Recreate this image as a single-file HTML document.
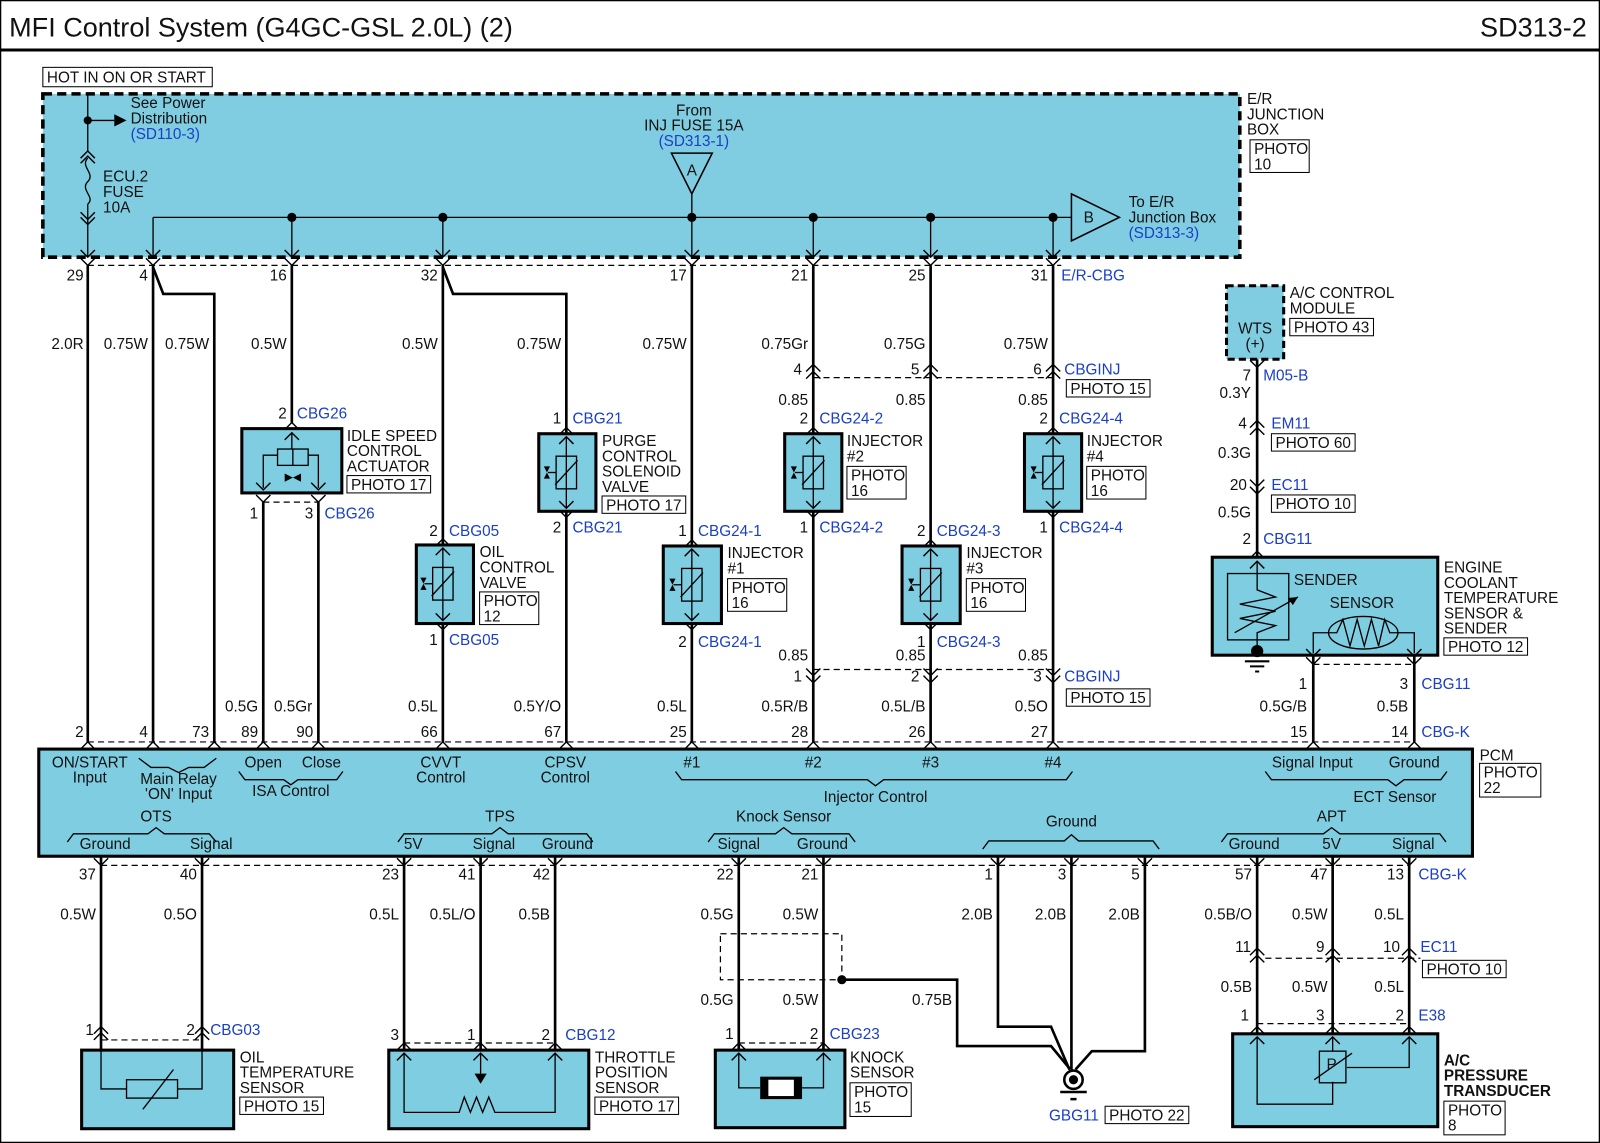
<!DOCTYPE html>
<html><head><meta charset="utf-8"><style>
html,body{margin:0;padding:0;background:#fff}
svg{display:block}
text{font-family:"Liberation Sans",Arial,sans-serif;font-size:15px;fill:#111}
.b{fill:#1a3fc8}
.m{text-anchor:middle}
.e{text-anchor:end}
.w{stroke:#000;stroke-width:2.6;fill:none}
.t{stroke:#000;stroke-width:1.3;fill:none}
.d{stroke:#000;stroke-width:1.2;fill:none;stroke-dasharray:6,4}
.bx{fill:#7fcde1;stroke:#000;stroke-width:3}
.pb{fill:#fff;stroke:#000;stroke-width:1}
</style></head><body>
<svg width="1600" height="1143" viewBox="0 0 1568 1120" preserveAspectRatio="none" xmlns="http://www.w3.org/2000/svg">
<defs>
<path id="dv" d="M-7,-7 L0,0 L7,-7" stroke="#000" stroke-width="1.4" fill="none"/>
<path id="uv" d="M-7,7 L0,0 L7,7" stroke="#000" stroke-width="1.4" fill="none"/>
<g id="sol">
<rect x="-10" y="-16" width="20" height="32" fill="none" stroke="#000" stroke-width="1.3"/>
<path d="M-11,12 L11,-12" stroke="#000" stroke-width="1.3"/>
<path d="M-10,0 L-18,0" stroke="#000" stroke-width="1.3"/>
<path d="M-22,-6 L-16,-6 L-22,6 L-16,6 Z" fill="#000"/>
</g>
</defs>
<rect x="0.5" y="0.5" width="1567" height="1119" fill="#fff" stroke="#000" stroke-width="1.5"/>
<line x1="0" y1="49" x2="1568" y2="49" stroke="#000" stroke-width="3"/>
<text x="9" y="36" style="font-size:26.5px">MFI Control System (G4GC-GSL 2.0L) (2)</text>
<text x="1555" y="36" class="e" style="font-size:26.5px">SD313-2</text>

<!-- Junction box -->
<rect x="42" y="66" width="166" height="19" fill="#fff" stroke="#000" stroke-width="1"/>
<text x="46" y="81">HOT IN ON OR START</text>
<rect x="42" y="92" width="1173" height="160" fill="#80cde1" stroke="#000" stroke-width="3.5" stroke-dasharray="9,5"/>
<text x="1222" y="102">E/R</text><text x="1222" y="117">JUNCTION</text><text x="1222" y="132">BOX</text>
<rect x="1225" y="137" width="58" height="32" class="pb"/><text x="1229" y="151">PHOTO</text><text x="1229" y="166">10</text>

<line x1="86" y1="92" x2="86" y2="148" class="t"/>
<circle cx="86" cy="118" r="4"/>
<line x1="86" y1="118" x2="112" y2="118" class="t"/><path d="M112,112 L124,118 L112,124Z"/>
<text x="128" y="106">See Power</text><text x="128" y="121">Distribution</text><text x="128" y="136" class="b">(SD110-3)</text>
<use href="#uv" x="86" y="148"/><use href="#uv" x="86" y="153"/>
<path d="M86,155 C78,163 94,170 86,178 C78,186 94,193 86,200" class="t"/>
<use href="#dv" x="86" y="215"/><use href="#dv" x="86" y="220"/>
<line x1="86" y1="200" x2="86" y2="252" class="t"/>
<text x="101" y="178">ECU.2</text><text x="101" y="193">FUSE</text><text x="101" y="208">10A</text>

<line x1="150" y1="213" x2="1050" y2="213" class="t"/>
<line x1="150" y1="213" x2="150" y2="252" class="t"/>
<g fill="#000"><circle cx="286" cy="213" r="4.5"/><circle cx="434" cy="213" r="4.5"/><circle cx="678" cy="213" r="4.5"/><circle cx="797" cy="213" r="4.5"/><circle cx="912" cy="213" r="4.5"/><circle cx="1032" cy="213" r="4.5"/></g>
<g class="t"><line x1="286" y1="213" x2="286" y2="252"/><line x1="434" y1="213" x2="434" y2="252"/><line x1="678" y1="190" x2="678" y2="252"/><line x1="797" y1="213" x2="797" y2="252"/><line x1="912" y1="213" x2="912" y2="252"/><line x1="1032" y1="213" x2="1032" y2="252"/></g>
<path d="M658,150 L698,150 L678,190Z" fill="none" stroke="#000" stroke-width="1.5"/><text x="678" y="172" class="m">A</text>
<text x="680" y="113" class="m">From</text><text x="680" y="128" class="m">INJ FUSE 15A</text><text x="680" y="143" class="m b">(SD313-1)</text>
<path d="M1050,190 L1050,236 L1097,213Z" fill="none" stroke="#000" stroke-width="1.5"/><text x="1067" y="218" class="m">B</text>
<text x="1106" y="203">To E/R</text><text x="1106" y="218">Junction Box</text><text x="1106" y="233" class="b">(SD313-3)</text>

<!-- top connector -->
<line x1="86" y1="260" x2="1040" y2="260" class="d"/>
<g><use href="#dv" x="86" y="252"/><use href="#dv" x="86" y="260"/>
<use href="#dv" x="150" y="252"/><use href="#dv" x="150" y="260"/>
<use href="#dv" x="286" y="252"/><use href="#dv" x="286" y="260"/>
<use href="#dv" x="434" y="252"/><use href="#dv" x="434" y="260"/>
<use href="#dv" x="678" y="252"/><use href="#dv" x="678" y="260"/>
<use href="#dv" x="797" y="252"/><use href="#dv" x="797" y="260"/>
<use href="#dv" x="912" y="252"/><use href="#dv" x="912" y="260"/>
<use href="#dv" x="1032" y="252"/><use href="#dv" x="1032" y="260"/></g>
<text x="82" y="275" class="e">29</text><text x="145" y="275" class="e">4</text><text x="281" y="275" class="e">16</text><text x="429" y="275" class="e">32</text><text x="673" y="275" class="e">17</text><text x="792" y="275" class="e">21</text><text x="907" y="275" class="e">25</text><text x="1027" y="275" class="e">31</text><text x="1040" y="275" class="b">E/R-CBG</text>

<!-- wires top to PCM -->
<g class="w">
<line x1="86" y1="260" x2="86" y2="727"/>
<line x1="150" y1="260" x2="150" y2="727"/>
<path d="M150,262 L160,288 L210,288 L210,727"/>
<line x1="286" y1="260" x2="286" y2="414"/>
<line x1="258" y1="492" x2="258" y2="727"/>
<line x1="312" y1="492" x2="312" y2="727"/>
<line x1="434" y1="260" x2="434" y2="727"/>
<path d="M434,262 L444,288 L555,288 L555,727"/>
<line x1="678" y1="260" x2="678" y2="727"/>
<line x1="797" y1="260" x2="797" y2="727"/>
<line x1="912" y1="260" x2="912" y2="727"/>
<line x1="1032" y1="260" x2="1032" y2="727"/>
<line x1="1232" y1="352" x2="1232" y2="546"/>
<line x1="1287" y1="643" x2="1287" y2="727"/>
<line x1="1386" y1="643" x2="1386" y2="727"/>
</g>
<g>
<text x="82" y="342" class="e">2.0R</text><text x="145" y="342" class="e">0.75W</text><text x="205" y="342" class="e">0.75W</text><text x="281" y="342" class="e">0.5W</text><text x="429" y="342" class="e">0.5W</text><text x="550" y="342" class="e">0.75W</text><text x="673" y="342" class="e">0.75W</text><text x="792" y="342" class="e">0.75Gr</text><text x="907" y="342" class="e">0.75G</text><text x="1027" y="342" class="e">0.75W</text>
</g>
<!-- CBGINJ top -->
<line x1="797" y1="370" x2="1032" y2="370" class="d"/>
<g><use href="#uv" x="797" y="357"/><use href="#uv" x="797" y="364"/><use href="#uv" x="912" y="357"/><use href="#uv" x="912" y="364"/><use href="#uv" x="1032" y="357"/><use href="#uv" x="1032" y="364"/></g>
<text x="786" y="367" class="e">4</text><text x="901" y="367" class="e">5</text><text x="1021" y="367" class="e">6</text><text x="1043" y="367" class="b">CBGINJ</text>
<rect x="1045" y="372" width="82" height="17" class="pb"/><text x="1049" y="386">PHOTO 15</text>
<text x="792" y="397" class="e">0.85</text><text x="907" y="397" class="e">0.85</text><text x="1027" y="397" class="e">0.85</text>

<!-- Idle speed -->
<rect x="237" y="420" width="98" height="63" class="bx"/>
<use href="#uv" x="286" y="414"/><use href="#uv" x="286" y="424"/>
<line x1="286" y1="424" x2="286" y2="440" class="t"/>
<rect x="272" y="440" width="30" height="16" class="t"/><line x1="287" y1="440" x2="287" y2="456" class="t"/>
<path d="M272,446 L258,446 L258,478 M302,446 L312,446 L312,478" class="t"/>
<path d="M279,464 L295,472 L295,464 L279,472Z" fill="#000"/>
<use href="#dv" x="258" y="480"/><use href="#dv" x="258" y="492"/><use href="#dv" x="312" y="480"/><use href="#dv" x="312" y="492"/>
<line x1="258" y1="492" x2="312" y2="492" class="d"/>
<text x="281" y="410" class="e">2</text><text x="291" y="410" class="b">CBG26</text>
<text x="340" y="432">IDLE SPEED</text><text x="340" y="447">CONTROL</text><text x="340" y="462">ACTUATOR</text>
<rect x="340" y="466" width="82" height="17" class="pb"/><text x="344" y="480">PHOTO 17</text>
<text x="253" y="508" class="e">1</text><text x="307" y="508" class="e">3</text><text x="318" y="508" class="b">CBG26</text>

<!-- valves: purge, oil, injectors -->
<g>
<rect x="528" y="425" width="56" height="76" class="bx"/><use href="#uv" x="555" y="419"/><use href="#uv" x="555" y="428"/><use href="#dv" x="555" y="498"/><use href="#dv" x="555" y="507"/><line x1="555" y1="428" x2="555" y2="498" class="t"/><use href="#sol" x="555" y="463"/>
<text x="550" y="415" class="e">1</text><text x="561" y="415" class="b">CBG21</text><text x="550" y="522" class="e">2</text><text x="561" y="522" class="b">CBG21</text>
<text x="590" y="437">PURGE</text><text x="590" y="452">CONTROL</text><text x="590" y="467">SOLENOID</text><text x="590" y="482">VALVE</text>
<rect x="590" y="486" width="82" height="17" class="pb"/><text x="594" y="500">PHOTO 17</text>

<rect x="408" y="534" width="56" height="77" class="bx"/><use href="#uv" x="434" y="528"/><use href="#uv" x="434" y="537"/><use href="#dv" x="434" y="608"/><use href="#dv" x="434" y="617"/><line x1="434" y1="537" x2="434" y2="608" class="t"/><use href="#sol" x="434" y="572"/>
<text x="429" y="525" class="e">2</text><text x="440" y="525" class="b">CBG05</text><text x="429" y="632" class="e">1</text><text x="440" y="632" class="b">CBG05</text>
<text x="470" y="546">OIL</text><text x="470" y="561">CONTROL</text><text x="470" y="576">VALVE</text>
<rect x="470" y="580" width="58" height="32" class="pb"/><text x="474" y="594">PHOTO</text><text x="474" y="609">12</text>

<rect x="769" y="425" width="56" height="76" class="bx"/><use href="#uv" x="797" y="419"/><use href="#uv" x="797" y="428"/><use href="#dv" x="797" y="498"/><use href="#dv" x="797" y="507"/><line x1="797" y1="428" x2="797" y2="498" class="t"/><use href="#sol" x="797" y="463"/>
<text x="792" y="415" class="e">2</text><text x="803" y="415" class="b">CBG24-2</text><text x="792" y="522" class="e">1</text><text x="803" y="522" class="b">CBG24-2</text>
<text x="830" y="437">INJECTOR</text><text x="830" y="452">#2</text>
<rect x="830" y="457" width="58" height="32" class="pb"/><text x="834" y="471">PHOTO</text><text x="834" y="486">16</text>

<rect x="1004" y="425" width="56" height="76" class="bx"/><use href="#uv" x="1032" y="419"/><use href="#uv" x="1032" y="428"/><use href="#dv" x="1032" y="498"/><use href="#dv" x="1032" y="507"/><line x1="1032" y1="428" x2="1032" y2="498" class="t"/><use href="#sol" x="1032" y="463"/>
<text x="1027" y="415" class="e">2</text><text x="1038" y="415" class="b">CBG24-4</text><text x="1027" y="522" class="e">1</text><text x="1038" y="522" class="b">CBG24-4</text>
<text x="1065" y="437">INJECTOR</text><text x="1065" y="452">#4</text>
<rect x="1065" y="457" width="58" height="32" class="pb"/><text x="1069" y="471">PHOTO</text><text x="1069" y="486">16</text>

<rect x="650" y="535" width="57" height="76" class="bx"/><use href="#uv" x="678" y="529"/><use href="#uv" x="678" y="538"/><use href="#dv" x="678" y="608"/><use href="#dv" x="678" y="617"/><line x1="678" y1="538" x2="678" y2="608" class="t"/><use href="#sol" x="678" y="573"/>
<text x="673" y="525" class="e">1</text><text x="684" y="525" class="b">CBG24-1</text><text x="673" y="634" class="e">2</text><text x="684" y="634" class="b">CBG24-1</text>
<text x="713" y="547">INJECTOR</text><text x="713" y="562">#1</text>
<rect x="713" y="567" width="58" height="32" class="pb"/><text x="717" y="581">PHOTO</text><text x="717" y="596">16</text>

<rect x="884" y="535" width="57" height="76" class="bx"/><use href="#uv" x="912" y="529"/><use href="#uv" x="912" y="538"/><use href="#dv" x="912" y="608"/><use href="#dv" x="912" y="617"/><line x1="912" y1="538" x2="912" y2="608" class="t"/><use href="#sol" x="912" y="573"/>
<text x="907" y="525" class="e">2</text><text x="918" y="525" class="b">CBG24-3</text><text x="907" y="634" class="e">1</text><text x="918" y="634" class="b">CBG24-3</text>
<text x="947" y="547">INJECTOR</text><text x="947" y="562">#3</text>
<rect x="947" y="567" width="58" height="32" class="pb"/><text x="951" y="581">PHOTO</text><text x="951" y="596">16</text>
</g>
<!-- CBGINJ bottom -->
<text x="792" y="647" class="e">0.85</text><text x="907" y="647" class="e">0.85</text><text x="1027" y="647" class="e">0.85</text>
<line x1="797" y1="656" x2="1032" y2="656" class="d"/>
<g><use href="#dv" x="797" y="662"/><use href="#dv" x="797" y="669"/><use href="#dv" x="912" y="662"/><use href="#dv" x="912" y="669"/><use href="#dv" x="1032" y="662"/><use href="#dv" x="1032" y="669"/></g>
<text x="786" y="668" class="e">1</text><text x="901" y="668" class="e">2</text><text x="1021" y="668" class="e">3</text><text x="1043" y="668" class="b">CBGINJ</text>
<rect x="1045" y="675" width="82" height="17" class="pb"/><text x="1049" y="689">PHOTO 15</text>

<!-- A/C module & ECT -->
<rect x="1202" y="280" width="56" height="72" fill="#80cde1" stroke="#000" stroke-width="3" stroke-dasharray="7,4"/>
<text x="1230" y="327" class="m">WTS</text><text x="1230" y="342" class="m">(+)</text>
<text x="1264" y="292">A/C CONTROL</text><text x="1264" y="307">MODULE</text>
<rect x="1264" y="312" width="82" height="17" class="pb"/><text x="1268" y="326">PHOTO 43</text>
<use href="#dv" x="1232" y="360"/>
<text x="1226" y="373" class="e">7</text><text x="1238" y="373" class="b">M05-B</text>
<text x="1226" y="390" class="e">0.3Y</text>
<use href="#uv" x="1232" y="412"/><use href="#uv" x="1232" y="419"/>
<text x="1222" y="420" class="e">4</text><text x="1246" y="420" class="b">EM11</text>
<rect x="1246" y="425" width="82" height="17" class="pb"/><text x="1250" y="439">PHOTO 60</text>
<text x="1226" y="449" class="e">0.3G</text>
<use href="#dv" x="1232" y="477"/><use href="#dv" x="1232" y="484"/>
<text x="1222" y="480" class="e">20</text><text x="1246" y="480" class="b">EC11</text>
<rect x="1246" y="485" width="82" height="17" class="pb"/><text x="1250" y="499">PHOTO 10</text>
<text x="1226" y="507" class="e">0.5G</text>
<text x="1226" y="533" class="e">2</text><text x="1238" y="533" class="b">CBG11</text>

<rect x="1188" y="546" width="221" height="96" class="bx"/>
<use href="#uv" x="1232" y="540"/><use href="#uv" x="1232" y="550"/>
<rect x="1203" y="562" width="60" height="65" class="t"/>
<path d="M1232,550 L1232,578 L1250,585 L1215,592 L1250,599 L1215,606 L1250,613 L1232,620 L1232,636" class="t"/>
<path d="M1210,620 L1272,585" class="t"/><path d="M1272,585 L1262,586 L1267,593Z"/>
<circle cx="1232" cy="638" r="6"/><path d="M1220,648 L1244,648 M1225,653 L1239,653 M1230,658 L1234,658" stroke="#000" stroke-width="2"/>
<text x="1268" y="573">SENDER</text><text x="1303" y="596">SENSOR</text>
<ellipse cx="1336" cy="620" rx="34" ry="16" class="t"/>
<path d="M1302,620 L1310,620 L1316,607 L1323,633 L1330,607 L1337,633 L1344,607 L1351,633 L1357,607 L1362,620 L1370,620" class="t"/>
<path d="M1302,620 L1287,620 L1287,640 M1370,620 L1386,620 L1386,640" class="t"/>
<use href="#dv" x="1287" y="643"/><use href="#dv" x="1287" y="651"/><use href="#dv" x="1386" y="643"/><use href="#dv" x="1386" y="651"/>
<line x1="1287" y1="651" x2="1386" y2="651" class="d"/>
<text x="1415" y="561">ENGINE</text><text x="1415" y="576">COOLANT</text><text x="1415" y="591">TEMPERATURE</text><text x="1415" y="606">SENSOR &amp;</text><text x="1415" y="621">SENDER</text>
<rect x="1415" y="625" width="82" height="17" class="pb"/><text x="1419" y="639">PHOTO 12</text>
<text x="1281" y="675" class="e">1</text><text x="1380" y="675" class="e">3</text><text x="1393" y="675" class="b">CBG11</text>
<text x="1281" y="697" class="e">0.5G/B</text><text x="1380" y="697" class="e">0.5B</text>

<!-- PCM -->
<text x="253" y="697" class="e">0.5G</text><text x="306" y="697" class="e">0.5Gr</text><text x="429" y="697" class="e">0.5L</text><text x="550" y="697" class="e">0.5Y/O</text><text x="673" y="697" class="e">0.5L</text><text x="792" y="697" class="e">0.5R/B</text><text x="907" y="697" class="e">0.5L/B</text><text x="1027" y="697" class="e">0.5O</text>
<line x1="86" y1="727" x2="1386" y2="727" class="d"/>
<text x="82" y="722" class="e">2</text><text x="145" y="722" class="e">4</text><text x="205" y="722" class="e">73</text><text x="253" y="722" class="e">89</text><text x="307" y="722" class="e">90</text><text x="429" y="722" class="e">66</text><text x="550" y="722" class="e">67</text><text x="673" y="722" class="e">25</text><text x="792" y="722" class="e">28</text><text x="907" y="722" class="e">26</text><text x="1027" y="722" class="e">27</text><text x="1281" y="722" class="e">15</text><text x="1380" y="722" class="e">14</text><text x="1393" y="722" class="b">CBG-K</text>
<rect x="38" y="734" width="1405" height="105" class="bx"/>
<g><use href="#uv" x="86" y="727"/><use href="#uv" x="150" y="727"/><use href="#uv" x="210" y="727"/><use href="#uv" x="258" y="727"/><use href="#uv" x="312" y="727"/><use href="#uv" x="434" y="727"/><use href="#uv" x="555" y="727"/><use href="#uv" x="678" y="727"/><use href="#uv" x="797" y="727"/><use href="#uv" x="912" y="727"/><use href="#uv" x="1032" y="727"/><use href="#uv" x="1287" y="727"/><use href="#uv" x="1386" y="727"/></g>
<text x="1450" y="745">PCM</text><rect x="1450" y="748" width="60" height="33" class="pb"/><text x="1454" y="762">PHOTO</text><text x="1454" y="777">22</text>
<g>
<text x="88" y="752" class="m">ON/START</text><text x="88" y="767" class="m">Input</text>
<path d="M136,743 L148,752 L165,752 L175,757 L185,752 L200,752 L212,743" class="t"/>
<text x="175" y="768" class="m">Main Relay</text><text x="175" y="783" class="m">'ON' Input</text>
<text x="258" y="752" class="m">Open</text><text x="315" y="752" class="m">Close</text>
<path d="M234,756 L240,764 L278,764 L285,769 L292,764 L330,764 L336,756" class="t"/>
<text x="285" y="780" class="m">ISA Control</text>
<text x="432" y="752" class="m">CVVT</text><text x="432" y="767" class="m">Control</text>
<text x="554" y="752" class="m">CPSV</text><text x="554" y="767" class="m">Control</text>
<text x="678" y="752" class="m">#1</text><text x="797" y="752" class="m">#2</text><text x="912" y="752" class="m">#3</text><text x="1032" y="752" class="m">#4</text>
<path d="M662,756 L668,764 L850,764 L858,770 L866,764 L1045,764 L1051,756" class="t"/>
<text x="858" y="786" class="m">Injector Control</text>
<text x="1286" y="752" class="m">Signal Input</text><text x="1386" y="752" class="m">Ground</text>
<path d="M1240,756 L1246,764 L1360,764 L1368,770 L1376,764 L1412,764 L1418,756" class="t"/>
<text x="1367" y="786" class="m">ECT Sensor</text>
<text x="153" y="805" class="m">OTS</text>
<path d="M66,825 L72,817 L145,817 L153,811 L161,817 L205,817 L212,825" class="t"/>
<text x="103" y="832" class="m">Ground</text><text x="207" y="832" class="m">Signal</text>
<text x="490" y="805" class="m">TPS</text>
<path d="M390,825 L396,817 L482,817 L490,811 L498,817 L575,817 L581,825" class="t"/>
<text x="405" y="832" class="m">5V</text><text x="484" y="832" class="m">Signal</text><text x="556" y="832" class="m">Ground</text>
<text x="768" y="805" class="m">Knock Sensor</text>
<path d="M694,825 L700,817 L760,817 L768,811 L776,817 L832,817 L838,825" class="t"/>
<text x="724" y="832" class="m">Signal</text><text x="806" y="832" class="m">Ground</text>
<text x="1050" y="810" class="m">Ground</text>
<path d="M963,832 L969,824 L1043,824 L1050,818 L1057,824 L1130,824 L1136,832" class="t"/>
<text x="1305" y="805" class="m">APT</text>
<path d="M1197,825 L1203,817 L1297,817 L1305,811 L1313,817 L1411,817 L1417,825" class="t"/>
<text x="1229" y="832" class="m">Ground</text><text x="1305" y="832" class="m">5V</text><text x="1385" y="832" class="m">Signal</text>
</g>
<!-- bottom connector -->
<line x1="99" y1="848" x2="1381" y2="848" class="d"/>
<g><use href="#dv" x="99" y="848"/><use href="#dv" x="198" y="848"/><use href="#dv" x="396" y="848"/><use href="#dv" x="471" y="848"/><use href="#dv" x="544" y="848"/><use href="#dv" x="724" y="848"/><use href="#dv" x="807" y="848"/><use href="#dv" x="978" y="848"/><use href="#dv" x="1050" y="848"/><use href="#dv" x="1122" y="848"/><use href="#dv" x="1232" y="848"/><use href="#dv" x="1306" y="848"/><use href="#dv" x="1381" y="848"/></g>
<text x="94" y="862" class="e">37</text><text x="193" y="862" class="e">40</text><text x="391" y="862" class="e">23</text><text x="466" y="862" class="e">41</text><text x="539" y="862" class="e">42</text><text x="719" y="862" class="e">22</text><text x="802" y="862" class="e">21</text><text x="973" y="862" class="e">1</text><text x="1045" y="862" class="e">3</text><text x="1117" y="862" class="e">5</text><text x="1227" y="862" class="e">57</text><text x="1301" y="862" class="e">47</text><text x="1376" y="862" class="e">13</text><text x="1390" y="862" class="b">CBG-K</text>
<g class="w">
<line x1="99" y1="839" x2="99" y2="1029"/><line x1="198" y1="839" x2="198" y2="1029"/>
<line x1="396" y1="839" x2="396" y2="1029"/><line x1="471" y1="839" x2="471" y2="1029"/><line x1="544" y1="839" x2="544" y2="1029"/>
<line x1="724" y1="839" x2="724" y2="1029"/><line x1="807" y1="839" x2="807" y2="1029"/>
<path d="M978,839 L978,1006 L1030,1006 L1048,1048"/>
<path d="M1050,839 L1050,1048"/>
<path d="M1122,839 L1122,1030 L1070,1030 L1054,1048"/>
<path d="M825,960 L938,960 L938,1025 L1030,1025 L1049,1048"/>
<line x1="1232" y1="839" x2="1232" y2="1013"/><line x1="1306" y1="839" x2="1306" y2="1013"/><line x1="1381" y1="839" x2="1381" y2="1013"/>
</g>
<text x="94" y="901" class="e">0.5W</text><text x="193" y="901" class="e">0.5O</text><text x="391" y="901" class="e">0.5L</text><text x="466" y="901" class="e">0.5L/O</text><text x="539" y="901" class="e">0.5B</text><text x="719" y="901" class="e">0.5G</text><text x="802" y="901" class="e">0.5W</text><text x="973" y="901" class="e">2.0B</text><text x="1045" y="901" class="e">2.0B</text><text x="1117" y="901" class="e">2.0B</text><text x="1227" y="901" class="e">0.5B/O</text><text x="1301" y="901" class="e">0.5W</text><text x="1376" y="901" class="e">0.5L</text>

<!-- OTS -->
<line x1="99" y1="1019" x2="198" y2="1019" class="d"/>
<use href="#uv" x="99" y="1006"/><use href="#uv" x="99" y="1012"/><use href="#uv" x="198" y="1006"/><use href="#uv" x="198" y="1012"/>
<text x="92" y="1014" class="e">1</text><text x="191" y="1014" class="e">2</text><text x="206" y="1014" class="b">CBG03</text>
<rect x="80" y="1029" width="149" height="77" class="bx"/>
<path d="M99,1029 L99,1067 L124,1067 M174,1067 L198,1067 L198,1029" class="t"/>
<rect x="124" y="1058" width="50" height="18" class="t"/><path d="M140,1087 L170,1048" class="t"/>
<text x="235" y="1041">OIL</text><text x="235" y="1056">TEMPERATURE</text><text x="235" y="1071">SENSOR</text>
<rect x="235" y="1075" width="82" height="17" class="pb"/><text x="239" y="1089">PHOTO 15</text>

<!-- TPS -->
<line x1="396" y1="1022" x2="544" y2="1022" class="d"/>
<text x="391" y="1019" class="e">3</text><text x="466" y="1019" class="e">1</text><text x="539" y="1019" class="e">2</text><text x="554" y="1019" class="b">CBG12</text>
<rect x="381" y="1029" width="196" height="77" class="bx"/>
<g><use href="#uv" x="396" y="1022"/><use href="#uv" x="396" y="1032"/><use href="#uv" x="471" y="1022"/><use href="#uv" x="471" y="1032"/><use href="#uv" x="544" y="1022"/><use href="#uv" x="544" y="1032"/></g>
<path d="M396,1032 L396,1090 L450,1090 L455,1075 L461,1090 L467,1075 L473,1090 L479,1075 L485,1090 L490,1090 L544,1090 L544,1032" class="t"/>
<line x1="471" y1="1032" x2="471" y2="1052" class="t"/><path d="M465,1052 L477,1052 L471,1062Z"/>
<text x="583" y="1041">THROTTLE</text><text x="583" y="1056">POSITION</text><text x="583" y="1071">SENSOR</text>
<rect x="583" y="1075" width="82" height="17" class="pb"/><text x="587" y="1089">PHOTO 17</text>

<!-- Knock -->
<rect x="706" y="915" width="119" height="45" class="d"/>
<circle cx="825" cy="960" r="4.5"/>
<text x="719" y="985" class="e">0.5G</text><text x="802" y="985" class="e">0.5W</text><text x="933" y="985" class="e">0.75B</text>
<line x1="724" y1="1022" x2="807" y2="1022" class="d"/>
<text x="719" y="1018" class="e">1</text><text x="802" y="1018" class="e">2</text><text x="813" y="1018" class="b">CBG23</text>
<rect x="701" y="1029" width="127" height="76" class="bx"/>
<g><use href="#uv" x="724" y="1022"/><use href="#uv" x="724" y="1032"/><use href="#uv" x="807" y="1022"/><use href="#uv" x="807" y="1032"/></g>
<path d="M724,1032 L724,1066 L745,1066 M786,1066 L807,1066 L807,1032" class="t"/>
<rect x="745" y="1055" width="41" height="22" fill="#000"/><rect x="753" y="1058" width="25" height="16" fill="#fff"/>
<text x="833" y="1041">KNOCK</text><text x="833" y="1056">SENSOR</text>
<rect x="833" y="1061" width="60" height="33" class="pb"/><text x="837" y="1075">PHOTO</text><text x="837" y="1090">15</text>
<!-- Ground -->
<circle cx="1052" cy="1058" r="9" fill="#fff" stroke="#000" stroke-width="2.5"/><circle cx="1052" cy="1058" r="4.5"/>
<path d="M1039,1070 L1065,1070 M1049,1077 L1055,1077" stroke="#000" stroke-width="2.5"/>
<text x="1028" y="1098" class="b">GBG11</text>
<rect x="1083" y="1084" width="82" height="17" class="pb"/><text x="1087" y="1098">PHOTO 22</text>

<!-- APT -->
<text x="1226" y="933" class="e">11</text><text x="1298" y="933" class="e">9</text><text x="1372" y="933" class="e">10</text><text x="1392" y="933" class="b">EC11</text>
<line x1="1240" y1="939" x2="1392" y2="939" class="d"/>
<g><use href="#uv" x="1232" y="929"/><use href="#uv" x="1232" y="936"/><use href="#uv" x="1306" y="929"/><use href="#uv" x="1306" y="936"/><use href="#uv" x="1381" y="929"/><use href="#uv" x="1381" y="936"/></g>
<rect x="1394" y="941" width="82" height="17" class="pb"/><text x="1398" y="955">PHOTO 10</text>
<text x="1227" y="972" class="e">0.5B</text><text x="1301" y="972" class="e">0.5W</text><text x="1376" y="972" class="e">0.5L</text>
<text x="1224" y="1000" class="e">1</text><text x="1298" y="1000" class="e">3</text><text x="1376" y="1000" class="e">2</text><text x="1390" y="1000" class="b">E38</text>
<line x1="1232" y1="1003" x2="1381" y2="1003" class="d"/>
<rect x="1208" y="1013" width="201" height="91" class="bx"/>
<g><use href="#uv" x="1232" y="1006"/><use href="#uv" x="1232" y="1016"/><use href="#uv" x="1306" y="1006"/><use href="#uv" x="1306" y="1016"/><use href="#uv" x="1381" y="1006"/><use href="#uv" x="1381" y="1016"/></g>
<path d="M1232,1016 L1232,1082 L1306,1082 L1306,1060 M1306,1016 L1306,1030 M1320,1046 L1381,1046 L1381,1016" class="t"/>
<rect x="1293" y="1030" width="26" height="31" class="t"/><text x="1300" y="1048">P</text>
<path d="M1288,1058 L1325,1032" class="t"/>
<text x="1415" y="1044" style="font-weight:bold">A/C</text><text x="1415" y="1059" style="font-weight:bold">PRESSURE</text><text x="1415" y="1074" style="font-weight:bold">TRANSDUCER</text>
<rect x="1415" y="1079" width="60" height="33" class="pb"/><text x="1419" y="1093">PHOTO</text><text x="1419" y="1108">8</text>
</svg>
</body></html>
